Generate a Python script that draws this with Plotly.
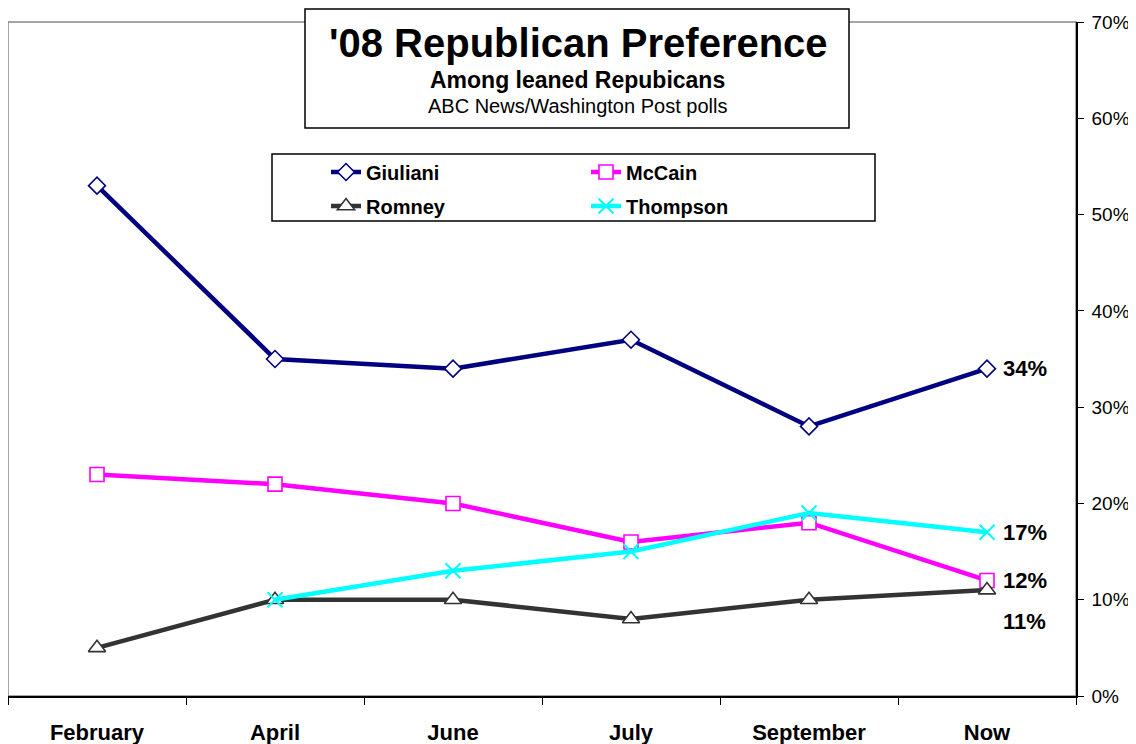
import plotly.graph_objects as go

months = ["February", "April", "June", "July", "September", "Now"]
giuliani = [53, 35, 34, 37, 28, 34]
mccain = [23, 22, 20, 16, 18, 12]
romney = [5, 10, 10, 8, 10, 11]
thompson = [None, 10, 13, 15, 19, 17]

end_labels = ["34%", "17%", "12%", "11%"]
end_values = [34, 17, 12, 11]
end_yshift = [0, 0, 0, -31]

FONT = "Arial, Liberation Sans, sans-serif"
# page body has an 8px margin, so the figure is drawn 8px in from the top-left
OFF = 8
W, H = 1136 - OFF, 744 - OFF
ML, MR, MT, MB = 0, 60, 14, 48
PW, PH = W - ML - MR, H - MT - MB


def px(x):
    return (x - OFF - ML) / PW


def py(y):
    return (H - MB - (y - OFF)) / PH


fig = go.Figure()

series = [
    ("Giuliani", giuliani, "#000080", "diamond", 13, "legend", 1.6),
    ("McCain", mccain, "#FF00FF", "square", 14, "legend", 1.6),
    ("Romney", romney, "#333333", "triangle-up", 15, "legend2", 1.6),
    ("Thompson", thompson, "#00FFFF", "x-thin", 15, "legend2", 2),
]

for name, vals, col, sym, size, leg, lw in series:
    if sym == "x-thin":
        marker = dict(symbol=sym, size=size, color=col, line=dict(color=col, width=lw))
    else:
        marker = dict(symbol=sym, size=size, color="white", line=dict(color=col, width=lw))
    fig.add_trace(go.Scatter(
        x=months, y=vals, name=name, mode="lines+markers",
        line=dict(color=col, width=4.5), marker=marker,
        legend=leg, connectgaps=False,
    ))

for lab, v, ys in zip(end_labels, end_values, end_yshift):
    fig.add_annotation(
        x=months[-1], y=v, text="<b>%s</b>" % lab, showarrow=False,
        xref="x", yref="y", xanchor="left", yanchor="middle", xshift=14, yshift=ys,
        font=dict(family=FONT, size=22, color="black"),
    )

# plot area gray frame
fig.add_shape(type="rect", xref="paper", yref="paper", x0=0, x1=1, y0=0, y1=1,
              line=dict(color="#888888", width=1.5), fillcolor="rgba(0,0,0,0)", layer="below")

# title box
fig.add_shape(type="rect", xref="paper", yref="paper",
              x0=px(305), x1=px(849), y0=py(128), y1=py(9),
              line=dict(color="black", width=1.5), fillcolor="white", layer="above")
fig.add_annotation(x=px(578), y=py(43), xref="paper", yref="paper", showarrow=False,
                   yanchor="middle", text="<b>'08 Republican Preference</b>",
                   font=dict(family=FONT, size=40, color="black"))
fig.add_annotation(x=px(577), y=py(80), xref="paper", yref="paper", showarrow=False,
                   yanchor="middle", text="<b>Among leaned Repubicans</b>",
                   font=dict(family=FONT, size=23, color="black"))
fig.add_annotation(x=px(577), y=py(106), xref="paper", yref="paper", showarrow=False,
                   yanchor="middle", text="ABC News/Washington Post polls",
                   font=dict(family=FONT, size=20, color="black"))

# legend box
fig.add_shape(type="rect", xref="paper", yref="paper",
              x0=px(272), x1=px(875), y0=py(221), y1=py(154),
              line=dict(color="black", width=1.5), fillcolor="white", layer="below")

leg_common = dict(
    orientation="h", xanchor="left", yanchor="middle",
    bgcolor="rgba(0,0,0,0)", borderwidth=0,
    font=dict(family=FONT, size=20, color="black", weight="bold"),
    entrywidth=215, entrywidthmode="pixels", itemclick=False,
)

fig.update_layout(
    width=W, height=H,
    margin=dict(l=ML, r=MR, t=MT, b=MB),
    paper_bgcolor="white", plot_bgcolor="white",
    font=dict(family=FONT, color="black"),
    legend=dict(x=px(326), y=py(172), **leg_common),
    legend2=dict(x=px(326), y=py(206), **leg_common),
    xaxis=dict(
        type="category", range=[-0.5, 5.5], showgrid=False, zeroline=False,
        showline=True, linecolor="black", linewidth=1.5,
        ticks="outside", tickson="boundaries", ticklen=7, tickcolor="black", tickwidth=1,
        tickfont=dict(family=FONT, size=22, color="black"),
        tickvals=months, ticktext=["<b>%s</b>" % m for m in months],
        ticklabelstandoff=16,
    ),
    yaxis=dict(
        side="right", range=[0, 70], dtick=10, ticksuffix="%",
        showgrid=False, zeroline=False,
        showline=True, linecolor="black", linewidth=1.5,
        ticks="outside", ticklen=6, tickcolor="black", tickwidth=1,
        tickfont=dict(family=FONT, size=19, color="black"),
        ticklabelstandoff=4,
    ),
    showlegend=True,
)

fig.write_html("out.html")
